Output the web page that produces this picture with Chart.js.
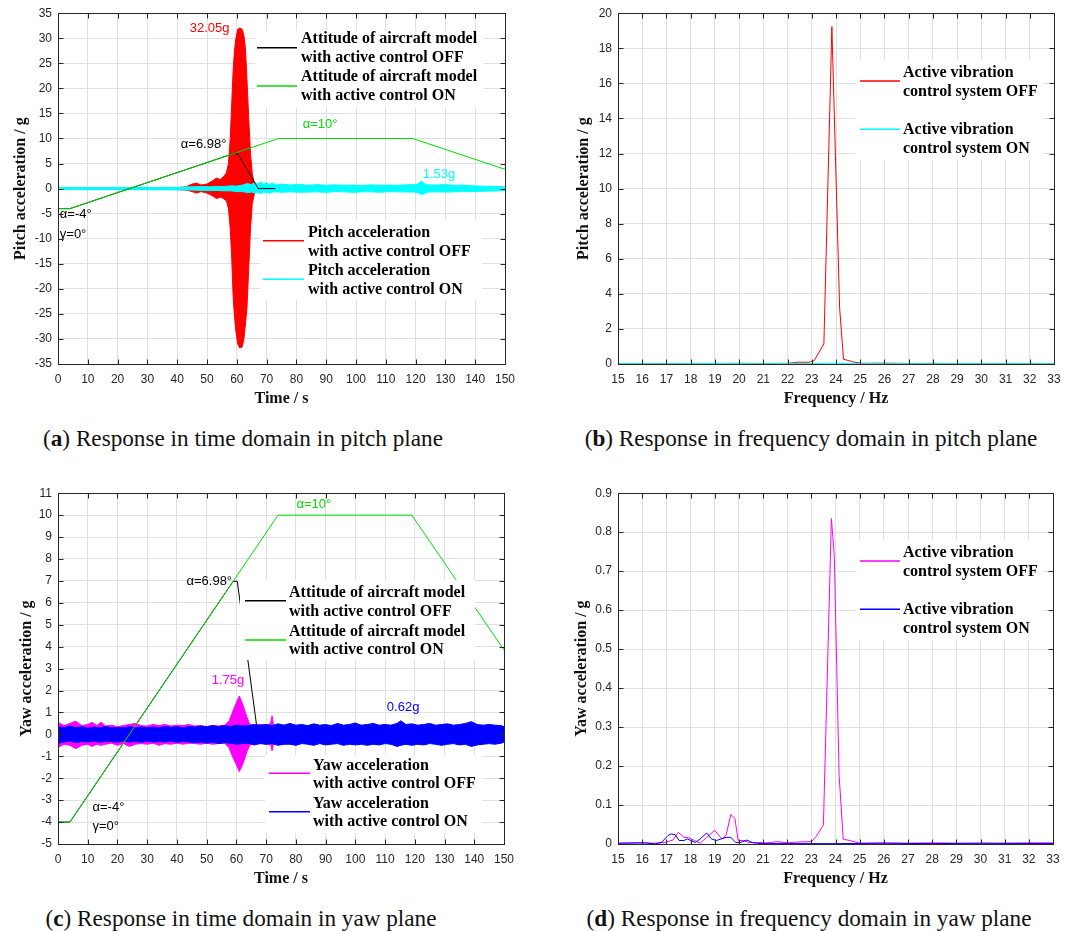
<!DOCTYPE html>
<html>
<head>
<meta charset="utf-8">
<script src="https://cdn.jsdelivr.net/npm/chart.js@4.4.1/dist/chart.umd.min.js"></script>
<style>
    body { margin: 0; background: #fff; width: 1074px; height: 931px; position: relative; overflow: hidden; }
    .panel { position: absolute; width: 537px; height: 420px; }
    .caption {
        position: absolute;
        font-family: "Liberation Serif", serif;
        font-size: 23.2px;
        line-height: 26px;
        color: #111;
        white-space: nowrap;
        transform: translateX(-50%);
    }
</style>
</head>
<body>
<div class="panel" style="left:0;top:0"><canvas id="pitchTime" width="537" height="420"></canvas></div>
<div class="panel" style="left:537px;top:0"><canvas id="pitchFreq" width="537" height="420"></canvas></div>
<div class="panel" style="left:0;top:480px"><canvas id="yawTime" width="537" height="420"></canvas></div>
<div class="panel" style="left:537px;top:480px"><canvas id="yawFreq" width="537" height="420"></canvas></div>

<div class="caption" style="left:243px;top:425px">(<b>a</b>) Response in time domain in pitch plane</div>
<div class="caption" style="left:811px;top:425px">(<b>b</b>) Response in frequency domain in pitch plane</div>
<div class="caption" style="left:241px;top:905px">(<b>c</b>) Response in time domain in yaw plane</div>
<div class="caption" style="left:809px;top:905px">(<b>d</b>) Response in frequency domain in yaw plane</div>

<script>
// ---- attitude of the model (deg), same schedule in both planes ----
const attitudeOnTime = [0, 4, 74, 119, 150];
const attitudeOnDeg = [-4, -4, 10, 10, 3.85];
const attitudeOffTime = [0, 4, 58.9, 60.3, 67.2, 73];
const attitudeOffDeg = [-4, -4, 6.98, 6.98, 0, 0];

// ---- pitch acceleration envelopes: [time s, upper g, lower g] ----
const pitchOffBand = [
    [0, 0.1, -0.1], [20, 0.15, -0.15], [40, 0.2, -0.2], [43, 0.35, -0.3], [45, 0.9, -0.6],
    [46.5, 1.1, -0.9], [48, 0.7, -0.6], [50, 0.9, -0.9], [52, 1.6, -1.5], [53.2, 2.1, -2.0],
    [54.5, 1.8, -1.7], [55.5, 2.4, -2.0], [56.5, 3.1, -2.4], [57.2, 5, -4], [57.8, 10, -8],
    [58.3, 17, -14], [58.8, 24, -22], [59.3, 28, -26], [59.7, 30, -28.5], [60.3, 31.8, -31],
    [61, 32.05, -31.8], [61.8, 31.8, -31.6], [62.4, 30.5, -30], [62.9, 28, -27], [63.4, 22, -24],
    [64, 14, -16], [64.6, 7, -8], [65.2, 3, -3], [65.8, 1.2, -1.3], [66.4, 0.4, -0.4],
    [67, 0.2, -0.2], [73, 0.1, -0.1]
];
const pitchOnBand = [
    [0, 0.2, -0.18], [3, 0.18, -0.2], [6, 0.22, -0.18], [9, 0.18, -0.22], [12, 0.22, -0.18],
    [15, 0.2, -0.22], [18, 0.25, -0.2], [21, 0.2, -0.22], [24, 0.25, -0.22], [27, 0.22, -0.2],
    [30, 0.26, -0.22], [33, 0.2, -0.25], [36, 0.27, -0.22], [39, 0.22, -0.27], [42, 0.3, -0.25],
    [45, 0.35, -0.3], [48, 0.4, -0.35], [51, 0.35, -0.4], [54, 0.45, -0.38], [56, 0.42, -0.45],
    [58, 0.55, -0.45], [60, 0.5, -0.6], [62, 0.7, -0.6], [63.5, 1.0, -0.8], [65, 0.8, -0.7],
    [66, 1.2, -0.9], [67, 0.9, -0.8], [68, 1.3, -1.0], [69, 0.9, -0.7], [70, 1.1, -0.8],
    [71, 0.8, -0.9], [72, 1.1, -0.7], [73, 0.75, -0.65], [75, 0.9, -0.75], [78, 0.7, -0.65],
    [81, 0.85, -0.75], [84, 0.65, -0.7], [87, 0.8, -0.65], [90, 0.65, -0.75], [93, 0.75, -0.6],
    [96, 0.65, -0.65], [99, 0.7, -0.75], [102, 0.6, -0.65], [105, 0.75, -0.65], [108, 0.65, -0.75],
    [111, 0.7, -0.6], [114, 0.65, -0.65], [117, 0.75, -0.7], [120, 0.8, -0.7], [121, 1.0, -0.9],
    [122, 1.53, -1.2], [123, 0.9, -1.0], [124, 0.75, -0.7], [127, 0.7, -0.65], [130, 0.8, -0.7],
    [133, 0.65, -0.65], [136, 0.7, -0.6], [139, 0.55, -0.6], [142, 0.5, -0.55], [145, 0.45, -0.5],
    [148, 0.4, -0.45], [150, 0.35, -0.35]
];

// ---- yaw acceleration envelopes: [time s, upper g, lower g] ----
const yawOffBand = [
    [0, 0.55, -0.6], [2, 0.4, -0.45], [4, 0.5, -0.5], [6, 0.6, -0.65], [8, 0.4, -0.5],
    [10, 0.45, -0.45], [11.5, 0.55, -0.55], [13, 0.4, -0.45], [14.5, 0.55, -0.5], [16, 0.38, -0.45],
    [18, 0.42, -0.4], [20, 0.35, -0.5], [22, 0.4, -0.42], [24, 0.45, -0.55], [26, 0.5, -0.45],
    [28, 0.4, -0.42], [30, 0.38, -0.45], [32, 0.45, -0.4], [34, 0.4, -0.5], [36, 0.45, -0.42],
    [38, 0.38, -0.45], [40, 0.42, -0.4], [42, 0.4, -0.45], [44, 0.45, -0.4], [46, 0.38, -0.42],
    [48, 0.4, -0.45], [50, 0.35, -0.4], [52, 0.4, -0.45], [54, 0.38, -0.42], [56, 0.42, -0.4],
    [57.5, 0.6, -0.6], [58.5, 0.95, -0.95], [59.7, 1.35, -1.3], [61, 1.75, -1.7], [62.3, 1.3, -1.3],
    [63.5, 0.8, -0.8], [64.5, 0.45, -0.5], [66, 0.4, -0.42], [68, 0.45, -0.4], [70, 0.4, -0.45],
    [71.5, 0.5, -0.45], [72, 0.85, -0.75], [72.5, 0.4, -0.4], [73, 0.3, -0.3]
];
const yawOnBand = [
    [0, 0.35, -0.4], [2, 0.3, -0.35], [4, 0.38, -0.3], [6, 0.3, -0.38], [8, 0.35, -0.32],
    [10, 0.28, -0.35], [12, 0.33, -0.3], [14, 0.3, -0.36], [16, 0.36, -0.3], [18, 0.3, -0.33],
    [20, 0.32, -0.35], [22, 0.3, -0.3], [24, 0.35, -0.35], [26, 0.3, -0.32], [28, 0.34, -0.36],
    [30, 0.3, -0.3], [32, 0.33, -0.35], [34, 0.3, -0.32], [36, 0.36, -0.35], [38, 0.32, -0.3],
    [40, 0.35, -0.36], [42, 0.3, -0.32], [44, 0.36, -0.35], [46, 0.33, -0.38], [48, 0.38, -0.35],
    [50, 0.35, -0.4], [52, 0.4, -0.36], [54, 0.35, -0.42], [56, 0.4, -0.38], [58, 0.36, -0.4],
    [60, 0.42, -0.45], [62, 0.38, -0.42], [64, 0.4, -0.4], [66, 0.45, -0.48], [68, 0.42, -0.42],
    [70, 0.45, -0.45], [72, 0.4, -0.42], [74, 0.48, -0.5], [76, 0.42, -0.45], [78, 0.5, -0.45],
    [80, 0.42, -0.5], [82, 0.45, -0.42], [84, 0.4, -0.45], [86, 0.48, -0.5], [88, 0.42, -0.42],
    [90, 0.45, -0.48], [92, 0.4, -0.45], [94, 0.5, -0.42], [96, 0.42, -0.5], [98, 0.45, -0.45],
    [100, 0.52, -0.48], [102, 0.42, -0.45], [104, 0.45, -0.5], [106, 0.5, -0.45], [108, 0.42, -0.48],
    [110, 0.45, -0.42], [112, 0.42, -0.45], [114, 0.5, -0.55], [115.3, 0.62, -0.5], [117, 0.45, -0.45],
    [119, 0.48, -0.5], [121, 0.42, -0.45], [123, 0.45, -0.48], [125, 0.5, -0.42], [127, 0.42, -0.45],
    [129, 0.45, -0.5], [131, 0.48, -0.45], [133, 0.42, -0.42], [135, 0.45, -0.48], [137, 0.5, -0.45],
    [139, 0.58, -0.55], [141, 0.45, -0.48], [143, 0.42, -0.45], [145, 0.45, -0.42], [147, 0.42, -0.45],
    [149, 0.4, -0.4], [150, 0.35, -0.35]
];

// ---- spectra, pitch plane ----
const pitchOffHz = [15, 16, 17, 18, 19, 20, 21, 22, 22.44, 22.9, 23.1, 23.5, 23.83, 24.15, 24.31, 24.77, 25.1, 26, 27, 28, 29, 30, 31, 32, 33];
const pitchOffAmp = [0.02, 0.02, 0.03, 0.02, 0.03, 0.04, 0.03, 0.04, 0.1, 0.1, 0.19, 1.15, 19.24, 3.2, 0.27, 0.1, 0.04, 0.05, 0.03, 0.04, 0.02, 0.03, 0.02, 0.03, 0.02];
const pitchOnHz = [15, 17, 19, 21, 23, 23.8, 24.5, 26, 28, 30, 33];
const pitchOnAmp = [0.02, 0.02, 0.03, 0.02, 0.03, 0.04, 0.03, 0.02, 0.02, 0.02, 0.02];

// ---- spectra, yaw plane ----
const yawOffHz = [15, 15.8, 16.5, 16.93, 17.27, 17.5, 17.73, 17.93, 18.16, 18.4,
    18.67, 19, 19.3, 19.47, 19.67, 19.84, 19.97, 20.2, 20.4, 20.8,
    21.2, 21.6, 22, 22.4, 23, 23.2, 23.5, 23.83, 23.95, 24.15,
    24.32, 24.66, 25, 26, 27, 28, 29, 30, 31, 32, 33];
const yawOffAmp = [0.002, 0.003, 0.002, 0.004, 0.01, 0.03, 0.017, 0.016, 0.009, 0.002,
    0.017, 0.035, 0.013, 0.022, 0.076, 0.065, 0.009, 0.009, 0.004, 0.004,
    0.003, 0.006, 0.003, 0.005, 0.006, 0.019, 0.049, 0.835, 0.74, 0.175,
    0.0125, 0.008, 0.002, 0.003, 0.002, 0.003, 0.002, 0.002, 0.002, 0.003, 0.003];
const yawOnHz = [15, 16.13, 16.53, 16.8, 17.07, 17.2, 17.36, 17.53, 17.73, 17.87,
    18.2, 18.4, 18.67, 18.87, 19.07, 19.47, 19.67, 19.87, 20.07, 20.33,
    20.6, 20.93, 22, 24, 26, 28, 30, 33];
const yawOnAmp = [0.002, 0.003, 0, 0.004, 0.022, 0.026, 0.024, 0.009, 0.009, 0.013,
    0.004, 0.013, 0.028, 0.013, 0.009, 0.017, 0.017, 0.004, 0.004, 0.01,
    0.003, 0.001, 0.001, 0.001, 0.002, 0.001, 0.002, 0.001];

const GREEN = '#00dd00', RED = '#ff0000', CYAN = '#00ffff', MAGENTA = '#ff00ff', BLUE = '#0000ff';
const tickFont = { family: 'Liberation Sans', size: 12 };
const titleFont = { family: 'Liberation Serif', size: 16, weight: 'bold' };

const pts = (xs, ys) => xs.map((x, i) => ({ x, y: ys[i] }));

function line(xs, ys, color, order) {
    return { data: pts(xs, ys), borderColor: color, borderWidth: 1, pointRadius: 0, tension: 0, fill: false, order };
}

// envelope drawn as two edges with the area between them filled
function band(rows, color, order, upperIndex) {
    const t = rows.map(r => r[0]);
    return [
        line(t, rows.map(r => r[1]), color, order),
        Object.assign(line(t, rows.map(r => r[2]), color, order), { fill: upperIndex, backgroundColor: color })
    ];
}

// box, inward ticks, text notes and legends, MATLAB style
function decorations(notes, legends) {
    return {
        id: 'decorations',
        afterDatasetsDraw(chart) {
            const { ctx, chartArea: a, scales: { x, y } } = chart;
            ctx.save();
            const L = Math.round(a.left) + 0.5, R = Math.round(a.right) + 0.5;
            const T = Math.round(a.top) + 0.5, B = Math.round(a.bottom) + 0.5;

            ctx.font = '13px "Liberation Sans"';
            ctx.textBaseline = 'middle';
            ctx.textAlign = 'left';
            notes.forEach(n => {
                ctx.fillStyle = n.color;
                ctx.fillText(n.text, x.getPixelForValue(n.x), y.getPixelForValue(n.y));
            });

            ctx.strokeStyle = '#262626';
            ctx.lineWidth = 1;
            ctx.beginPath();
            x.ticks.forEach(t => {
                const p = Math.round(x.getPixelForValue(t.value)) + 0.5;
                ctx.moveTo(p, B); ctx.lineTo(p, B - 5);
                ctx.moveTo(p, T); ctx.lineTo(p, T + 5);
            });
            y.ticks.forEach(t => {
                const p = Math.round(y.getPixelForValue(t.value)) + 0.5;
                ctx.moveTo(L, p); ctx.lineTo(L + 5, p);
                ctx.moveTo(R, p); ctx.lineTo(R - 5, p);
            });
            ctx.stroke();
            ctx.strokeRect(L, T, R - L, B - T);

            legends.forEach(lg => {
                const [x0, y0, x1, y1] = lg.box;
                ctx.fillStyle = '#fff';
                ctx.fillRect(x0, y0, x1 - x0, y1 - y0);
                ctx.font = 'bold 16px "Liberation Serif"';
                lg.items.forEach(it => {
                    ctx.lineWidth = 1.5;
                    ctx.strokeStyle = it.color;
                    ctx.beginPath();
                    ctx.moveTo(lg.lineX[0], it.lineY);
                    ctx.lineTo(lg.lineX[1], it.lineY);
                    ctx.stroke();
                    ctx.fillStyle = '#000';
                    it.text.forEach((s, i) => ctx.fillText(s, lg.textX, it.textY[i]));
                });
            });
            ctx.restore();
        }
    };
}

function axes(o) {
    return {
        x: {
            type: 'linear', min: o.xMin, max: o.xMax,
            afterFit: s => { s.height = 56; },
            ticks: { stepSize: o.xStep, autoSkip: false, maxRotation: 0, padding: 8, color: '#262626', font: tickFont },
            grid: { color: '#e0e0e0', drawTicks: false },
            border: { display: false },
            title: { display: true, text: o.xTitle, color: '#111', font: titleFont, padding: { top: 0, bottom: 12 } }
        },
        y: {
            type: 'linear', min: o.yMin, max: o.yMax,
            afterFit: s => { s.width = o.yWidth; },
            ticks: { stepSize: o.yStep, autoSkip: false, padding: 6, color: '#262626', font: tickFont },
            grid: { color: '#e0e0e0', drawTicks: false },
            border: { display: false },
            title: { display: true, text: o.yTitle, color: '#111', font: titleFont, padding: { top: o.yTitlePad, bottom: 0 } }
        }
    };
}

function makeChart(id, datasets, scaleOpts, padding, notes, legends) {
    return new Chart(document.getElementById(id), {
        type: 'line',
        data: { datasets },
        options: {
            responsive: false,
            animation: false,
            devicePixelRatio: 1,
            layout: { padding },
            plugins: { legend: { display: false }, tooltip: { enabled: false } },
            scales: axes(scaleOpts)
        },
        plugins: [decorations(notes, legends)]
    });
}

// (a) pitch plane, time domain
makeChart('pitchTime', [
    line(attitudeOnTime, attitudeOnDeg, GREEN, 1),
    line(attitudeOffTime, attitudeOffDeg, '#000', 2),
    ...band(pitchOnBand, CYAN, 3, 2),
    ...band(pitchOffBand, RED, 5, 4)
], {
    xMin: 0, xMax: 150, xStep: 10, yMin: -35, yMax: 35, yStep: 5, yWidth: 58, yTitlePad: 11,
    xTitle: 'Time / s', yTitle: 'Pitch acceleration / g'
}, { top: 13, right: 32, bottom: 0, left: 0 }, [
    { text: '32.05g', x: 44.2, y: 31.9, color: RED },
    { text: 'α=6.98°', x: 41.2, y: 8.85, color: '#000' },
    { text: 'α=10°', x: 82.1, y: 12.8, color: GREEN },
    { text: '1.53g', x: 122.4, y: 2.9, color: CYAN },
    { text: 'α=-4°', x: 0.6, y: -5.16, color: '#000' },
    { text: 'γ=0°', x: 0.6, y: -9.14, color: '#000' }
], [
    { box: [255, 31, 484, 107], lineX: [257, 297], textX: 301, items: [
        { color: '#000', lineY: 47.7, textY: [39.3, 58.3], text: ['Attitude of aircraft model', 'with active control OFF'] },
        { color: GREEN, lineY: 86, textY: [77.3, 96.3], text: ['Attitude of aircraft model', 'with active control ON'] }
    ] },
    { box: [260, 220, 482, 300], lineX: [263, 304], textX: 308, items: [
        { color: RED, lineY: 240.7, textY: [232.7, 251.7], text: ['Pitch acceleration', 'with active control OFF'] },
        { color: CYAN, lineY: 279.3, textY: [271, 290], text: ['Pitch acceleration', 'with active control ON'] }
    ] }
]);

// (b) pitch plane, frequency domain
makeChart('pitchFreq', [
    line(pitchOnHz, pitchOnAmp, CYAN, 1),
    line(pitchOffHz, pitchOffAmp, RED, 2)
], {
    xMin: 15, xMax: 33, xStep: 1, yMin: 0, yMax: 20, yStep: 2, yWidth: 81, yTitlePad: 37,
    xTitle: 'Frequency / Hz', yTitle: 'Pitch acceleration / g'
}, { top: 13, right: 20, bottom: 0, left: 0 }, [], [
    { box: [319, 60, 506, 160], lineX: [323, 363], textX: 366, items: [
        { color: RED, lineY: 81, textY: [72.7, 91.7], text: ['Active vibration', 'control system OFF'] },
        { color: CYAN, lineY: 129.3, textY: [130, 149], text: ['Active vibration', 'control system ON'] }
    ] }
]);

// (c) yaw plane, time domain; the OFF attitude trace sits under the acceleration bands here
makeChart('yawTime', [
    line(attitudeOnTime, attitudeOnDeg, GREEN, 1),
    line(attitudeOffTime, attitudeOffDeg, '#000', 7),
    ...band(yawOnBand, BLUE, 3, 2),
    ...band(yawOffBand, MAGENTA, 5, 4)
], {
    xMin: 0, xMax: 150, xStep: 10, yMin: -5, yMax: 11, yStep: 1, yWidth: 58, yTitlePad: 17,
    xTitle: 'Time / s', yTitle: 'Yaw acceleration / g'
}, { top: 13, right: 33, bottom: 0, left: 0 }, [
    { text: 'α=10°', x: 80.2, y: 10.5, color: GREEN },
    { text: 'α=6.98°', x: 43.2, y: 6.97, color: '#000' },
    { text: '1.75g', x: 51.7, y: 2.44, color: MAGENTA },
    { text: '0.62g', x: 110.6, y: 1.22, color: BLUE },
    { text: 'α=-4°', x: 11.6, y: -3.34, color: '#000' },
    { text: 'γ=0°', x: 11.6, y: -4.21, color: '#000' }
], [
    { box: [240, 100, 475, 180], lineX: [245, 286], textX: 289, items: [
        { color: '#000', lineY: 120.7, textY: [113.3, 132.3], text: ['Attitude of aircraft model', 'with active control OFF'] },
        { color: GREEN, lineY: 160, textY: [151.7, 170.3], text: ['Attitude of aircraft model', 'with active control ON'] }
    ] },
    { box: [265, 275, 482, 353], lineX: [269, 310], textX: 313, items: [
        { color: MAGENTA, lineY: 293.3, textY: [285.7, 304.3], text: ['Yaw acceleration', 'with active control OFF'] },
        { color: BLUE, lineY: 331.7, textY: [323.7, 342.3], text: ['Yaw acceleration', 'with active control ON'] }
    ] }
]);

// (d) yaw plane, frequency domain
makeChart('yawFreq', [
    line(yawOnHz, yawOnAmp, BLUE, 1),
    line(yawOffHz, yawOffAmp, MAGENTA, 2)
], {
    xMin: 15, xMax: 33, xStep: 1, yMin: 0, yMax: 0.9, yStep: 0.1, yWidth: 81, yTitlePad: 35,
    xTitle: 'Frequency / Hz', yTitle: 'Yaw acceleration / g'
}, { top: 13, right: 21, bottom: 0, left: 0 }, [], [
    { box: [319, 60, 506, 160], lineX: [323, 363], textX: 366, items: [
        { color: MAGENTA, lineY: 81, textY: [72.7, 91.7], text: ['Active vibration', 'control system OFF'] },
        { color: BLUE, lineY: 129.3, textY: [130, 149], text: ['Active vibration', 'control system ON'] }
    ] }
]);
</script>
</body>
</html>
